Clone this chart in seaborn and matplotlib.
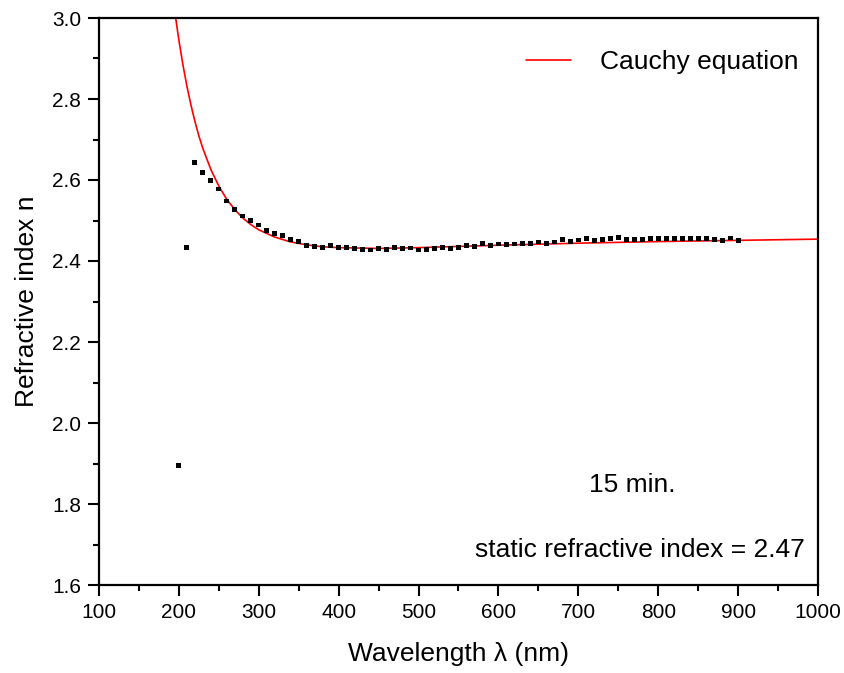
import numpy as np
import pandas as pd
import matplotlib.pyplot as plt
from matplotlib.ticker import MultipleLocator
import seaborn as sns

# measured refractive index, 200-900 nm every 10 nm
wavelength = list(range(200, 910, 10))
n_measured = [1.895, 2.433, 2.644, 2.618, 2.598, 2.578, 2.548, 2.528, 2.511, 2.500,
              2.489, 2.475, 2.467, 2.462, 2.454, 2.449, 2.438, 2.436, 2.433, 2.439,
              2.434, 2.434, 2.431, 2.428, 2.427, 2.430, 2.428, 2.433, 2.431, 2.432,
              2.427, 2.428, 2.430, 2.434, 2.430, 2.433, 2.439, 2.436, 2.444, 2.438,
              2.442, 2.440, 2.442, 2.444, 2.444, 2.447, 2.444, 2.447, 2.453, 2.448,
              2.452, 2.456, 2.450, 2.453, 2.456, 2.458, 2.453, 2.454, 2.453, 2.455,
              2.455, 2.456, 2.456, 2.456, 2.456, 2.456, 2.455, 2.453, 2.451, 2.457,
              2.450]

# Cauchy fit curve
fit_wavelength = [196, 200, 205, 210, 215, 220, 225, 230, 240, 250, 260, 270, 280,
                  290, 300, 320, 340, 360, 380, 400, 450, 500, 550, 600, 700, 800,
                  900, 1000]
n_fit = [3.000, 2.945, 2.885, 2.832, 2.786, 2.745, 2.709, 2.678, 2.626, 2.585,
         2.552, 2.527, 2.506, 2.490, 2.477, 2.459, 2.447, 2.440, 2.435, 2.433,
         2.431, 2.433, 2.436, 2.439, 2.444, 2.448, 2.451, 2.454]

df_meas = pd.DataFrame({'wl': wavelength, 'n': n_measured})
df_fit = pd.DataFrame({'wl': fit_wavelength, 'n': n_fit})

sns.set_style('white')
plt.rcParams['font.family'] = ['Liberation Sans', 'DejaVu Sans']
plt.rc('axes', linewidth=1.6, labelcolor='black', edgecolor='black')
plt.rc('text', color='black')
plt.rc('legend', labelcolor='black')

fig = plt.figure(figsize=(8.45, 6.73), dpi=100)
ax = fig.add_axes([99/845, 1 - 585/673, 719/845, 567/673])

sns.scatterplot(data=df_meas, x='wl', y='n', marker='s', s=12, color='black',
                edgecolor='none', ax=ax, zorder=3)
sns.lineplot(data=df_fit, x='wl', y='n', color='red', linewidth=1.2, ax=ax,
             label='Cauchy equation', zorder=2)

ax.set_xlim(100, 1000)
ax.set_ylim(1.6, 3.0)
ax.xaxis.set_major_locator(MultipleLocator(100))
ax.xaxis.set_minor_locator(MultipleLocator(50))
ax.yaxis.set_major_locator(MultipleLocator(0.2))
ax.yaxis.set_minor_locator(MultipleLocator(0.1))
ax.yaxis.set_major_formatter(plt.FormatStrFormatter('%.1f'))
ax.tick_params(which='both', direction='out', width=1.5, colors='black',
               labelsize=15, top=False, right=False, bottom=True, left=True)
ax.tick_params(which='major', length=8, pad=5)
ax.tick_params(which='minor', length=4)
for sp in ax.spines.values():
    sp.set_color('black')
    sp.set_visible(True)

ax.set_xlabel('Wavelength λ (nm)', fontsize=19, labelpad=14)
ax.set_ylabel('Refractive index n', fontsize=19, labelpad=9)

ax.legend(loc='upper right', bbox_to_anchor=(1.006, 0.985), frameon=False,
          fontsize=19, handlelength=1.7, handletextpad=1.1)

ax.text(0.741, 0.164, '15 min.', transform=ax.transAxes, ha='center',
        va='baseline', fontsize=19)
ax.text(0.982, 0.049, 'static refractive index = 2.47', transform=ax.transAxes,
        ha='right', va='baseline', fontsize=19)

plt.savefig('out.png', dpi=100)
plt.close(fig)
